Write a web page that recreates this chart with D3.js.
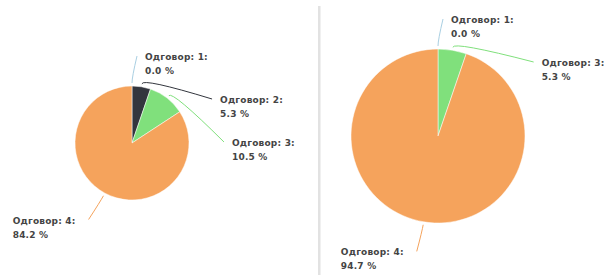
<!DOCTYPE html>
<html>
<head>
<meta charset="utf-8">
<script src="https://cdn.jsdelivr.net/npm/d3@7"></script>
<style>
  body { margin: 0; background: #fff; }
  svg { display: block; }
  .lbl { font-family: "DejaVu Sans", Verdana, sans-serif; font-size: 9px; font-weight: bold; fill: #444; letter-spacing: 0.2px; }
</style>
</head>
<body>
<svg id="chart" width="605" height="275"></svg>
<script>
// answers and counts per chart
var answers = ["1", "2", "3", "4"];
var countsLeft = [0, 1, 2, 16];
var answersRight = ["1", "3", "4"];
var countsRight = [0, 1, 18];

var color = {"1": "#a9cfe2", "2": "#33363e", "3": "#80e07c", "4": "#f5a35c"};

var svg = d3.select("#chart");

// divider between the two pies
svg.append("rect")
  .attr("x", 318).attr("y", 6)
  .attr("width", 2.5).attr("height", 269)
  .attr("fill", "#e2e2e2");

function draw_pie(keys, counts, cx, cy, r) {
  var total = d3.sum(counts);
  var data = keys.map(function(k, i) { return {key: k, value: counts[i]}; });

  var pie = d3.pie().sort(null).value(function(d) { return d.value; });
  var arcs = pie(data);
  var arc = d3.arc().innerRadius(0).outerRadius(r);

  var g = svg.append("g").attr("transform", "translate(" + cx + "," + cy + ")");

  g.selectAll("path.slice")
    .data(arcs)
    .enter()
    .append("path")
    .attr("class", "slice")
    .attr("d", arc)
    .style("fill", function(d) { return color[d.data.key]; })
    .style("stroke", "#fff")
    .style("stroke-width", 0.5);

  // label end points on an outer circle, pushed apart vertically
  var R = r + 30, gap = 43;
  arcs.forEach(function(d) {
    d.mid = (d.startAngle + d.endAngle) / 2;
    d.right = d.mid < Math.PI;
    d.ly = -R * Math.cos(d.mid);
  });
  var rightSide = arcs.filter(function(d) { return d.right; });
  for (var i = 1; i < rightSide.length; i++) {
    rightSide[i].ly = Math.max(rightSide[i].ly, rightSide[i - 1].ly + gap);
  }
  arcs.forEach(function(d) {
    var x = Math.sqrt(Math.max(0, R * R - d.ly * d.ly));
    d.lx = d.right ? x + 5 : -x - 2;
  });

  g.selectAll("path.leader")
    .data(arcs)
    .enter()
    .append("path")
    .attr("class", "leader")
    .attr("d", function(d) {
      var s = r + 3, c = r + 9;
      var x0 = s * Math.sin(d.mid), y0 = -s * Math.cos(d.mid);
      var x1 = c * Math.sin(d.mid), y1 = -c * Math.cos(d.mid);
      return "M" + x0 + "," + y0 + "Q" + x1 + "," + y1 + " " + d.lx + "," + d.ly;
    })
    .style("fill", "none")
    .style("stroke", function(d) { return color[d.data.key]; })
    .style("stroke-width", 1);

  var labels = g.selectAll("text.lbl")
    .data(arcs)
    .enter()
    .append("text")
    .attr("class", "lbl");

  labels.append("tspan")
    .attr("class", "l1")
    .text(function(d) { return "Одговор: " + d.data.key + ":"; });
  labels.append("tspan")
    .attr("class", "l2")
    .text(function(d) { return (100 * d.data.value / total).toFixed(1) + " %"; });

  labels.each(function(d) {
    var t = d3.select(this);
    var w = t.select(".l1").node().getComputedTextLength();
    var x = d.right ? d.lx + 8 : d.lx - 13 - w;
    var y = d.ly + 4;
    t.select(".l1").attr("x", x).attr("y", y);
    t.select(".l2").attr("x", x).attr("y", y + 14);
  });
}

draw_pie(answers, countsLeft, 132, 143, 57);
draw_pie(answersRight, countsRight, 438, 136, 87);
</script>
</body>
</html>
